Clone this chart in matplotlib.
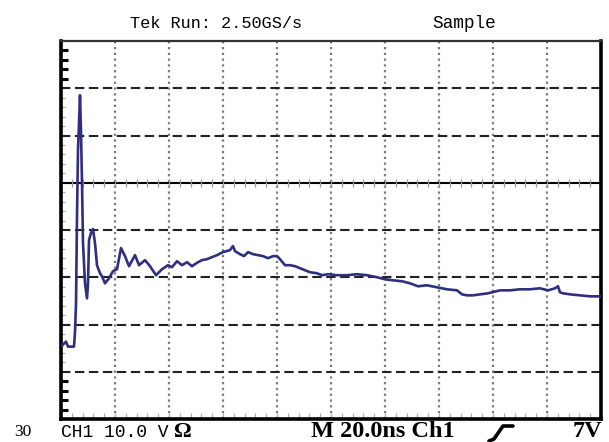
import numpy as np
import matplotlib
matplotlib.use("Agg")
import matplotlib.pyplot as plt
from matplotlib.lines import Line2D

# ---- data (time in ns, voltage in V; 20 ns/div, 10 V/div, ground at 0) ----
time_ns = [0.37, 1.11, 1.85, 2.59, 4.81, 5.19, 5.56, 5.93, 6.11, 6.30, 6.67, 7.04,
           7.41, 7.78, 8.15, 8.89, 9.63, 10.00, 10.37, 11.11, 11.85, 12.59, 13.33,
           14.44, 15.19, 16.30, 17.78, 19.26, 20.74, 22.22, 23.70, 25.19, 27.41,
           28.89, 31.11, 32.96, 35.19, 37.41, 39.63, 41.11, 42.96, 44.81, 46.67,
           48.52, 50.74, 52.22, 54.07, 55.93, 57.78, 60.00, 62.59, 63.70, 64.44,
           66.30, 67.78, 69.26, 71.11, 72.96, 74.81, 76.67, 78.52, 80.00, 81.11,
           82.96, 84.81, 86.67, 88.52, 90.37, 92.22, 94.81, 96.67, 98.89, 102.22,
           105.93, 109.63, 113.33, 117.04, 120.00, 122.96, 126.30, 129.26, 132.22,
           135.56, 139.26, 142.96, 146.67, 148.52, 150.37, 152.59, 155.19, 158.15,
           162.59, 166.30, 170.00, 173.70, 177.41, 180.37, 182.96, 184.07, 184.81,
           185.93, 188.52, 192.22, 195.93, 199.63]
volts = [-34.47, -34.04, -33.62, -34.68, -34.68, -31.49, -25.53, -7.02, 0.0, 7.02,
         12.77, 18.51, 10.64, 0.0, -12.77, -21.28, -24.47, -21.28, -12.13, -10.64,
         -9.79, -12.77, -17.45, -19.15, -19.79, -21.28, -20.21, -18.72, -18.30,
         -13.83, -15.53, -17.66, -15.32, -17.45, -16.38, -17.66, -19.57, -18.30,
         -17.45, -17.87, -16.60, -17.45, -16.81, -17.66, -16.81, -16.38, -16.17,
         -15.74, -15.32, -14.68, -14.26, -13.40, -14.47, -15.11, -15.53, -14.68,
         -15.11, -15.32, -15.53, -15.96, -15.53, -15.53, -16.17, -17.45, -17.45,
         -17.66, -18.09, -18.51, -18.94, -19.15, -19.57, -19.36, -19.57, -19.57,
         -19.36, -19.57, -20.00, -20.43, -20.64, -20.85, -21.28, -21.91, -21.70,
         -22.13, -22.55, -22.77, -23.62, -23.83, -23.83, -23.62, -23.40, -22.77,
         -22.77, -22.55, -22.55, -22.34, -22.77, -22.34, -21.91, -23.19, -23.40,
         -23.62, -23.83, -24.04, -24.04]

x_min, x_max, x_div = 0, 200, 20
y_min, y_max, y_div = -50, 30, 10

W, H = 609, 442
fig = plt.figure(figsize=(W / 100, H / 100), dpi=100)
fig.patch.set_facecolor("white")
ax = fig.add_axes([61 / W, 1 - 419 / H, 540 / W, 378 / H])
ax.set_xlim(x_min, x_max)
ax.set_ylim(y_min, y_max)

# grid
for xv in np.arange(x_min + x_div, x_max, x_div):
    ax.axvline(xv, color="#7a7a7a", lw=1.6, ls=(0, (1, 1.6)), zorder=1)
for yv in np.arange(y_min + y_div, y_max, y_div):
    if yv == 0:
        ax.axhline(0, color="black", lw=1.5, zorder=1)
    else:
        ax.axhline(yv, color="#222222", lw=1.5, ls=(0, (4.5, 2.2)), zorder=1)

# small ticks along the ground line
cx = np.arange(x_min, x_max + 0.1, x_div / 5)
ax.plot(cx, np.zeros_like(cx), ls="none", marker="|", ms=6, mew=0.9,
        color="#9a9a9a", zorder=1)

# trace
ax.plot(time_ns, volts, color="#2f2f7f", lw=1.9, zorder=3, solid_joinstyle="round")

# spines
for s in ["left", "bottom", "right"]:
    ax.spines[s].set_linewidth(2.6)
    ax.spines[s].set_color("black")
ax.spines["top"].set_linewidth(1.6)
ax.spines["top"].set_color("#333333")
ax.spines["top"].set_linestyle((0, (1, 1)))

# ticks: thick black in top/bottom divisions on the left, faint elsewhere
major_y = [22, 24, 26, 28, -42, -44, -46, -48]
minor_y = [v for v in np.arange(y_min + 2, y_max, 2)
           if v not in major_y and v % 10 != 0]
ax.set_yticks(major_y)
ax.set_yticks(minor_y, minor=True)
ax.tick_params(axis="y", which="major", direction="in", length=5, width=2.2,
               color="black", labelleft=False, left=True, right=False)
ax.tick_params(axis="y", which="minor", direction="in", length=3, width=0.9,
               color="#b0b0b0", left=True, right=False)
ax.set_xticks([])
ax.set_xticks(np.arange(x_min + 4, x_max, 4), minor=True)
ax.tick_params(axis="x", which="minor", direction="in", length=4, width=0.9,
               color="#b0b0b0", bottom=True, top=False)
ax.tick_params(axis="x", which="major", bottom=False, labelbottom=False)

# texts
mono = "Liberation Mono"
serif = "Liberation Serif"
fig.text(130 / W, 1 - 28 / H, "Tek Run: 2.50GS/s", family=mono, fontsize=12.2,
         ha="left", va="baseline")
fig.text(432 / W, 1 - 28 / H, "Sample", family=mono, fontsize=12.8,
         ha="left", va="baseline")
fig.text(14 / W, 1 - 436 / H, "30", family=serif, fontsize=12.5,
         ha="left", va="baseline")
fig.text(61 / W, 1 - 437 / H, "CH1 10.0 V", family=mono, fontsize=13,
         ha="left", va="baseline")
fig.text(174 / W, 1 - 437 / H, "Ω", family=serif, fontsize=16, weight="bold",
         ha="left", va="baseline")
fig.text(311 / W, 1 - 437 / H, "M 20.0ns Ch1", family=serif, fontsize=17.5,
         weight="bold", ha="left", va="baseline")
fig.text(602 / W, 1 - 437 / H, "7V", family=serif, fontsize=17.5, weight="bold",
         ha="right", va="baseline")

# trigger (rising edge) symbol
sx = np.array([489, 494, 503, 513]) / W
sy = 1 - np.array([441, 439, 426, 426]) / H
fig.add_artist(Line2D(sx, sy, color="black", lw=2.6, solid_capstyle="round"))

fig.savefig("out.png", dpi=100, facecolor="white")
